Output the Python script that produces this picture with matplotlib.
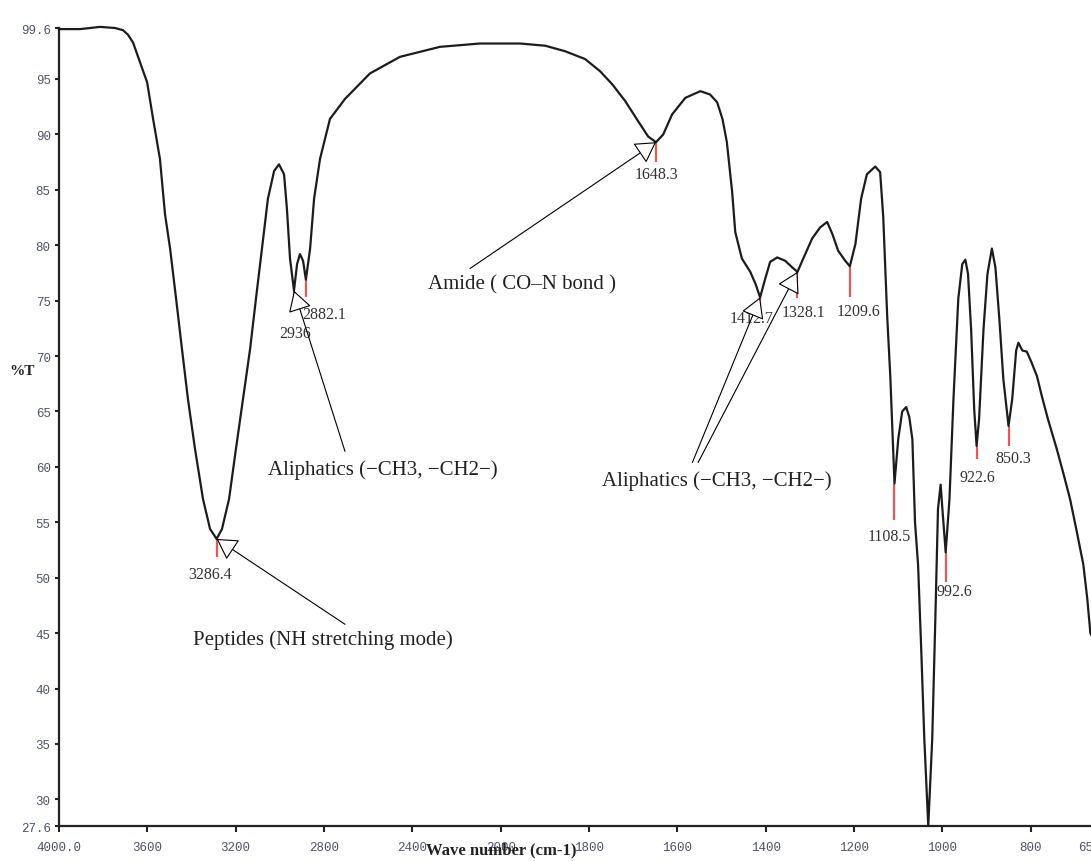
import numpy as np
import matplotlib
matplotlib.use("Agg")
import matplotlib.pyplot as plt

# ---- spectrum (wavenumber in cm-1, transmittance in %T) ----
wavenumber = [
    4000, 3905, 3814, 3746, 3710, 3688, 3665, 3633, 3601, 3574, 3543, 3520,
    3497, 3470, 3443, 3416, 3384, 3348, 3316, 3286.4, 3262, 3230, 3199, 3167,
    3135, 3108, 3081, 3054, 3026, 3004, 2981, 2968, 2954, 2936, 2922, 2909,
    2895, 2882.1, 2863, 2845, 2818, 2773, 2705, 2592, 2456, 2275, 2094, 2001,
    1956, 1899, 1854, 1809, 1775, 1747, 1718, 1689, 1666, 1648.3, 1632, 1612,
    1582, 1548, 1526, 1510, 1498, 1488, 1476, 1469, 1454, 1435, 1423, 1412.7,
    1401, 1390, 1374, 1356, 1340, 1328.1, 1315, 1295, 1277, 1261, 1249, 1236,
    1220, 1209.6, 1197, 1184, 1171, 1152, 1141, 1134, 1125, 1118, 1108.5, 1100,
    1091, 1082, 1075, 1068, 1062, 1055, 1048, 1041, 1032, 1023, 1016, 1010,
    1004, 1000, 992.6, 984, 975, 964, 955, 948, 942, 935, 928, 922.6, 917, 907,
    898, 888, 880, 871, 862, 850.3, 842, 833, 828, 819, 809, 799, 786, 775,
    761, 741, 726, 711, 697, 681, 672, 665, 650,
]
transmittance = [
    99.5, 99.5, 99.7, 99.6, 99.4, 99.0, 98.3, 96.5, 94.7, 91.4, 87.8, 82.8,
    79.7, 75.2, 70.6, 66.1, 61.6, 57.1, 54.4, 53.5, 54.4, 57.1, 61.6, 66.1,
    70.6, 75.2, 79.7, 84.2, 86.7, 87.3, 86.4, 83.3, 78.8, 75.9, 78.3, 79.2,
    78.6, 76.9, 79.7, 84.2, 87.8, 91.4, 93.2, 95.5, 97.0, 97.9, 98.2, 98.2,
    98.2, 98.0, 97.5, 96.8, 95.7, 94.5, 93.0, 91.2, 89.8, 89.3, 90.0, 91.8,
    93.3, 93.9, 93.6, 92.9, 91.4, 89.3, 84.8, 81.2, 78.8, 77.6, 76.5, 75.3,
    77.0, 78.5, 78.9, 78.6, 78.0, 77.6, 78.8, 80.6, 81.6, 82.1, 81.0, 79.5,
    78.6, 78.1, 80.1, 84.2, 86.4, 87.1, 86.6, 82.6, 73.6, 68.2, 58.5, 62.5,
    65.0, 65.4, 64.5, 62.5, 55.0, 51.1, 43.6, 35.5, 27.6, 35.5, 46.3, 56.2,
    58.4, 56.2, 52.3, 57.1, 66.1, 75.2, 78.3, 78.7, 77.4, 72.4, 65.2, 61.9,
    64.3, 72.4, 77.4, 79.7, 78.0, 73.3, 67.9, 63.7, 66.1, 70.5, 71.2, 70.5,
    70.4, 69.5, 68.2, 66.4, 64.3, 61.6, 59.4, 57.1, 54.4, 51.2, 48.1, 45.0,
    43.8,
]

# ---- labelled peaks ----
peak_wn = [3286.4, 2936, 2882.1, 1648.3, 1412.7, 1328.1, 1209.6, 1108.5,
           992.6, 922.6, 850.3]
peak_t = [53.5, 75.9, 76.9, 89.3, 75.3, 77.6, 78.1, 58.5, 52.3, 61.9, 63.7]
peak_text = ["3286.4", "2936", "2882.1", "1648.3", "1412.7", "1328.1",
             "1209.6", "1108.5", "992.6", "922.6", "850.3"]
peak_text_pos = [(3316, 50.3), (2931, 72.1), (2800, 73.8), (1648, 86.4),
                 (1432, 73.4), (1315, 74.0), (1190, 74.1), (1120, 53.8),
                 (973, 48.8), (921, 59.1), (839, 60.8)]
marker_len = [1.6, 1.5, 1.6, 1.8, 1.8, 2.4, 2.8, 3.3, 2.7, 1.2, 1.8]

# ---- band assignments ----
band_text = ["Peptides (NH stretching mode)", "Aliphatics (\u2212CH3, \u2212CH2\u2212)",
             "Amide ( CO\u2013N bond )", "Aliphatics (\u2212CH3, \u2212CH2\u2212)"]
band_text_pos = [(2805, 44.5), (2533, 59.8), (1951, 76.5), (1510, 58.8)]
# arrows: (tail, tip)
band_arrows = [((2705, 45.8), (3286.4, 53.5)),
               ((2705, 61.4), (2936, 75.9)),
               ((2139, 77.9), (1648.3, 89.3)),
               ((1566, 60.4), (1412.7, 75.3)),
               ((1553, 60.4), (1328.1, 77.6))]

xticks = [4000, 3600, 3200, 2800, 2400, 2000, 1800, 1600, 1400, 1200, 1000, 800, 650]
xtick_labels = ["4000.0", "3600", "3200", "2800", "2400", "2000", "1800",
                "1600", "1400", "1200", "1000", "800", "650.0"]
yticks = [27.6, 30, 35, 40, 45, 50, 55, 60, 65, 70, 75, 80, 85, 90, 95, 99.6]
ytick_labels = ["27.6", "30", "35", "40", "45", "50", "55", "60", "65", "70",
                "75", "80", "85", "90", "95", "99.6"]

W, H = 1091, 862
fig = plt.figure(figsize=(W / 100, H / 100), dpi=100)
ax = fig.add_axes([59 / W, (H - 827) / H, (1097 - 59) / W, (827 - 29) / H])


# x axis is expanded two-fold below 2000 cm-1
def fwd(x):
    x = np.asarray(x, dtype=float)
    return np.where(x >= 2000, x, 2 * x - 2000)


def inv(u):
    u = np.asarray(u, dtype=float)
    return np.where(u >= 2000, u, (u + 2000) / 2)


ax.set_xscale("function", functions=(fwd, inv))
ax.set_xlim(4000, 650)
ax.set_ylim(27.6, 99.6)

ax.plot(wavenumber, transmittance, color="#1c1c1c", lw=1.6, solid_joinstyle="round",
        clip_on=False, zorder=3)

serif = ["Liberation Serif", "DejaVu Serif"]
mono = ["Liberation Mono", "DejaVu Sans Mono"]

for wn, t, L in zip(peak_wn, peak_t, marker_len):
    ax.plot([wn, wn], [t, t - L], color="#e05a5a", lw=1.6, zorder=2,
            solid_capstyle="butt")
for txt, (x, y) in zip(peak_text, peak_text_pos):
    ax.text(x, y, txt, ha="center", va="center", fontsize=11.5,
            family=serif, color="#333333")

for txt, (x, y) in zip(band_text, band_text_pos):
    ax.text(x, y, txt, ha="center", va="center", fontsize=15,
            family=serif, color="#222222")

for tail, tip in band_arrows:
    ax.annotate("", xy=tip, xytext=tail,
                arrowprops=dict(arrowstyle="-|>,head_length=0.43,head_width=0.25",
                                mutation_scale=30, fc="white", ec="black",
                                lw=0.8, shrinkA=0, shrinkB=0), zorder=4)

# axes styling
for s in ("top", "right"):
    ax.spines[s].set_visible(False)
for s in ("left", "bottom"):
    ax.spines[s].set_linewidth(1.6)
    ax.spines[s].set_color("#222222")

ax.set_xticks(xticks)
ax.set_xticklabels(xtick_labels)
ax.set_yticks(yticks)
ax.set_yticklabels(ytick_labels)
ax.minorticks_off()
ax.tick_params(axis="x", direction="out", length=4, width=1.5, pad=7,
               labelsize=9, labelcolor="#4d5566", color="#222222")
ax.tick_params(axis="y", direction="out", length=3, width=1.5, pad=3,
               labelsize=9, labelcolor="#4d5566", color="#222222")
for lab in ax.get_xticklabels() + ax.get_yticklabels():
    lab.set_family(mono)

fig.text(501 / W, 1 - 850 / H, "Wave number (cm-1)", ha="center", va="center",
         fontsize=12, fontweight="bold", family=serif, color="#222222")
fig.text(22 / W, 1 - 372 / H, "%T", ha="center", va="center",
         fontsize=11, fontweight="bold", family=serif, color="#222222")

fig.savefig("out.png", dpi=100)
